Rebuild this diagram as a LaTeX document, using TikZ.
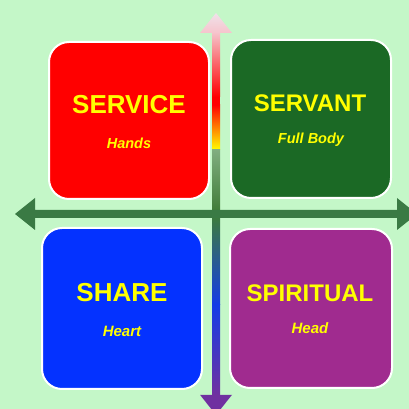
\documentclass[tikz,border=0pt]{standalone}
\usepackage{fontspec}
\setmainfont{Liberation Sans}
\definecolor{bgc}{RGB}{196,247,200}
\definecolor{boxred}{RGB}{255,0,0}
\definecolor{boxgreen}{RGB}{27,105,37}
\definecolor{boxblue}{RGB}{4,50,255}
\definecolor{boxpurple}{RGB}{160,43,143}
\definecolor{txtyellow}{RGB}{255,255,0}
\definecolor{axisgreen}{RGB}{58,122,68}
\definecolor{pinktop}{RGB}{240,226,234}
\definecolor{pinkmid}{RGB}{246,196,204}
\definecolor{ygreen}{RGB}{128,173,128}
\definecolor{dgreen}{RGB}{61,122,52}
\definecolor{tgreen}{RGB}{60,122,62}
\definecolor{vblue}{RGB}{20,60,230}
\definecolor{vpurple}{RGB}{112,48,160}
\tikzset{
  quad/.style={draw=white, line width=2pt, rounded corners=20pt, inner sep=0pt},
  title/.style={anchor=base, text=txtyellow, font=\bfseries, inner sep=0pt},
  sub/.style={anchor=base, text=txtyellow, font=\bfseries\itshape, inner sep=0pt}
}
\begin{document}
\begin{tikzpicture}[x=1pt,y=1pt]
\useasboundingbox (0,0) rectangle (409,409);
\fill[bgc] (0,0) rectangle (409,409);
% boxes
\node[quad, fill=boxred, minimum width=160pt, minimum height=157pt] (service) at (129,288.5) {};
\node[quad, fill=boxgreen, minimum width=160pt, minimum height=158pt] (servant) at (311,290) {};
\node[quad, fill=boxblue, minimum width=160pt, minimum height=161pt] (share) at (122,100.5) {};
\node[quad, fill=boxpurple, minimum width=162pt, minimum height=159pt] (spiritual) at (311,100.5) {};
% texts
\node[title, font=\bfseries\fontsize{26}{30}\selectfont] (t1) at (129,295) {SERVICE};
\node[sub, font=\bfseries\itshape\fontsize{14.5}{17}\selectfont] (s1) at (129,260) {Hands};
\node[title, font=\bfseries\fontsize{24}{28}\selectfont] (t2) at (310,297) {SERVANT};
\node[sub, font=\bfseries\itshape\fontsize{14.5}{17}\selectfont] (s2) at (311,265.5) {Full Body};
\node[title, font=\bfseries\fontsize{26}{30}\selectfont] (t3) at (122,107) {SHARE};
\node[sub, font=\bfseries\itshape\fontsize{15}{18}\selectfont] (s3) at (122,72) {Heart};
\node[title, font=\bfseries\fontsize{24}{28}\selectfont] (t4) at (310,107) {SPIRITUAL};
\node[sub, font=\bfseries\itshape\fontsize{15}{18}\selectfont] (s4) at (310,75) {Head};
% vertical gradient arrow (top part)
\shade[top color=pinktop, bottom color=pinkmid] (216,396) -- (232,376) -- (200,376) -- cycle;
\shade[top color=pinkmid, bottom color=boxred] (212,376.5) rectangle (220,312);
\fill[boxred] (212,312.2) rectangle (220,304);
\shade[top color=boxred, bottom color=txtyellow] (212,304.2) rectangle (220,259);
\shade[top color=ygreen, bottom color=dgreen] (212,259) rectangle (220,195);
% vertical gradient arrow (bottom part)
\shade[top color=tgreen, bottom color=vblue] (212,191.5) rectangle (220,104);
\shade[top color=vblue, bottom color=vpurple] (212,104.2) rectangle (220,14);
\fill[vpurple] (200,14.2) -- (232,14.2) -- (216,-6) -- cycle;
% horizontal arrow
\fill[axisgreen] (15,195) -- (35,211) -- (35,199) -- (397,199) -- (397,211) -- (417,195) -- (397,179) -- (397,191) -- (35,191) -- (35,179) -- cycle;
\end{tikzpicture}
\end{document}
